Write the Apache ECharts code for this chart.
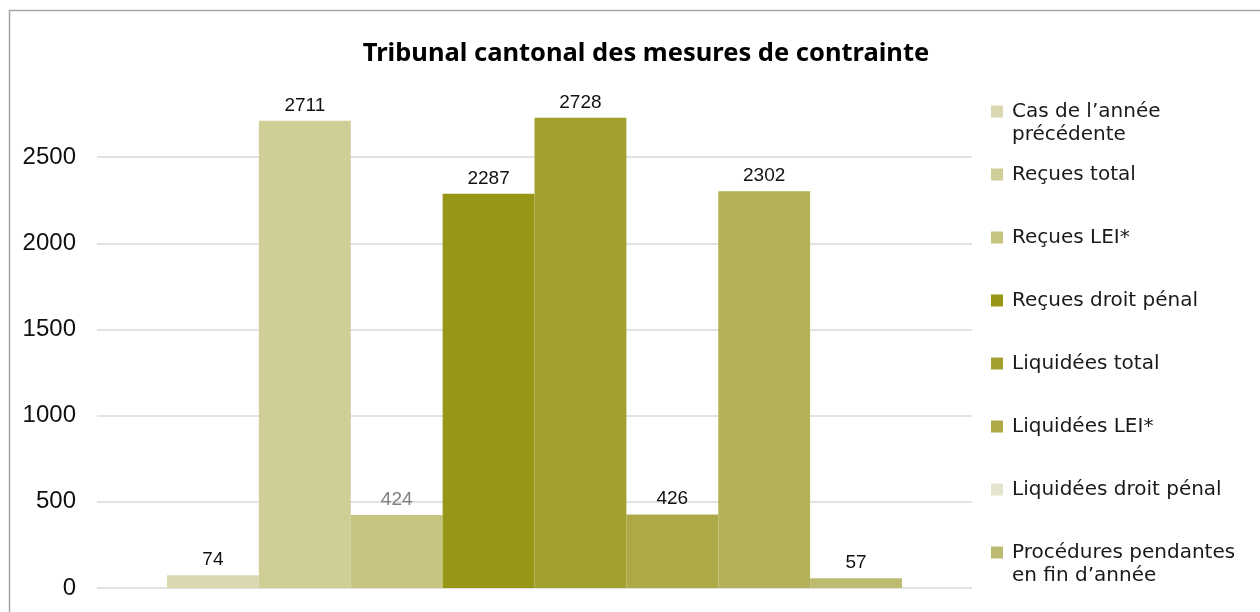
<!DOCTYPE html>
<html>
<head>
<meta charset="utf-8">
<script src="https://cdn.jsdelivr.net/npm/echarts@6/dist/echarts.min.js"></script>
<style>
  html, body { margin: 0; padding: 0; background: #fff; }
  #chart { width: 1260px; height: 612px; }
</style>
</head>
<body>
<div id="chart"></div>
<script>
const categories = [""];
const seriesNames = [
  "Cas de l\u2019année\nprécédente",
  "Reçues total",
  "Reçues LEI*",
  "Reçues droit pénal",
  "Liquidées total",
  "Liquidées LEI*",
  "Liquidées droit pénal",
  "Procédures pendantes\nen fin d\u2019année"
];
const seriesValues = [74, 2711, 424, 2287, 2728, 426, 2302, 57];
const barColors = ["#d9d8b0", "#d0ce97", "#c6c47f", "#979616", "#a2a02f", "#aca946", "#b3b15a", "#bdbb71"];
const legendColors = ["#d9d8b0", "#d0ce97", "#c6c47f", "#979616", "#a2a02f", "#aca946", "#e5e4cc", "#bdbb71"];
const yTicks = [0, 500, 1000, 1500, 2000, 2500];

const chart = echarts.init(document.getElementById("chart"));
const font = "Liberation Sans, Arial, sans-serif";
const lh = 23;

const series = seriesNames.map((name, i) => ({
  name,
  type: "bar",
  barGap: "0%",
  barCategoryGap: "16%",
  itemStyle: { color: barColors[i] },
  label: {
    show: true,
    position: "top",
    distance: 6,
    fontFamily: font,
    fontSize: 19,
    color: i === 2 ? "#7f7f7f" : "#111"
  },
  data: [seriesValues[i]]
}));

// two-line names get an empty first line so the square sits next to line one
const legendData = seriesNames.map((name, i) => {
  const twoLines = name.indexOf("\n") >= 0;
  return {
    name,
    itemStyle: { color: legendColors[i] },
    textStyle: { padding: twoLines ? [0, 0, 0, 4] : [lh, 0, lh, 4] }
  };
});

const option = {
  animation: false,
  backgroundColor: "#fff",
  title: {
    text: "Tribunal cantonal des mesures de contrainte",
    left: 641,
    textAlign: "center",
    top: 36,
    textStyle: { fontFamily: "Noto Sans, sans-serif", fontSize: 25.5, fontWeight: "bold", color: "#000" }
  },
  graphic: [{
    type: "rect",
    shape: { x: 9.5, y: 10.5, width: 1300, height: 700 },
    style: { fill: null, stroke: "#a6a6a6", lineWidth: 1.5 },
    silent: true
  }],
  legend: {
    orient: "vertical",
    left: 986,
    top: 72,
    itemWidth: 12,
    itemHeight: 12,
    itemGap: -6,
    icon: "rect",
    formatter: name => (name.indexOf("\n") >= 0 ? "\n" + name : name),
    textStyle: { fontFamily: "DejaVu Sans, sans-serif", fontSize: 20, color: "#1a1a1a", lineHeight: lh },
    data: legendData
  },
  grid: { left: 97, right: 288, top: 71, bottom: 24 },
  xAxis: {
    type: "category",
    data: categories,
    axisLine: { show: false },
    axisTick: { show: false },
    axisLabel: { show: false }
  },
  yAxis: {
    type: "value",
    min: 0,
    max: 3000,
    interval: 500,
    axisLine: { show: false },
    axisTick: { show: false },
    axisLabel: {
      showMaxLabel: false,
      margin: 21,
      fontFamily: font,
      fontSize: 24,
      color: "#111",
      formatter: v => (yTicks.indexOf(v) >= 0 ? String(v) : "")
    },
    splitLine: { showMaxLine: false, lineStyle: { color: "#d9d9d9", width: 1.5 } }
  },
  series
};

chart.setOption(option);
</script>
</body>
</html>
